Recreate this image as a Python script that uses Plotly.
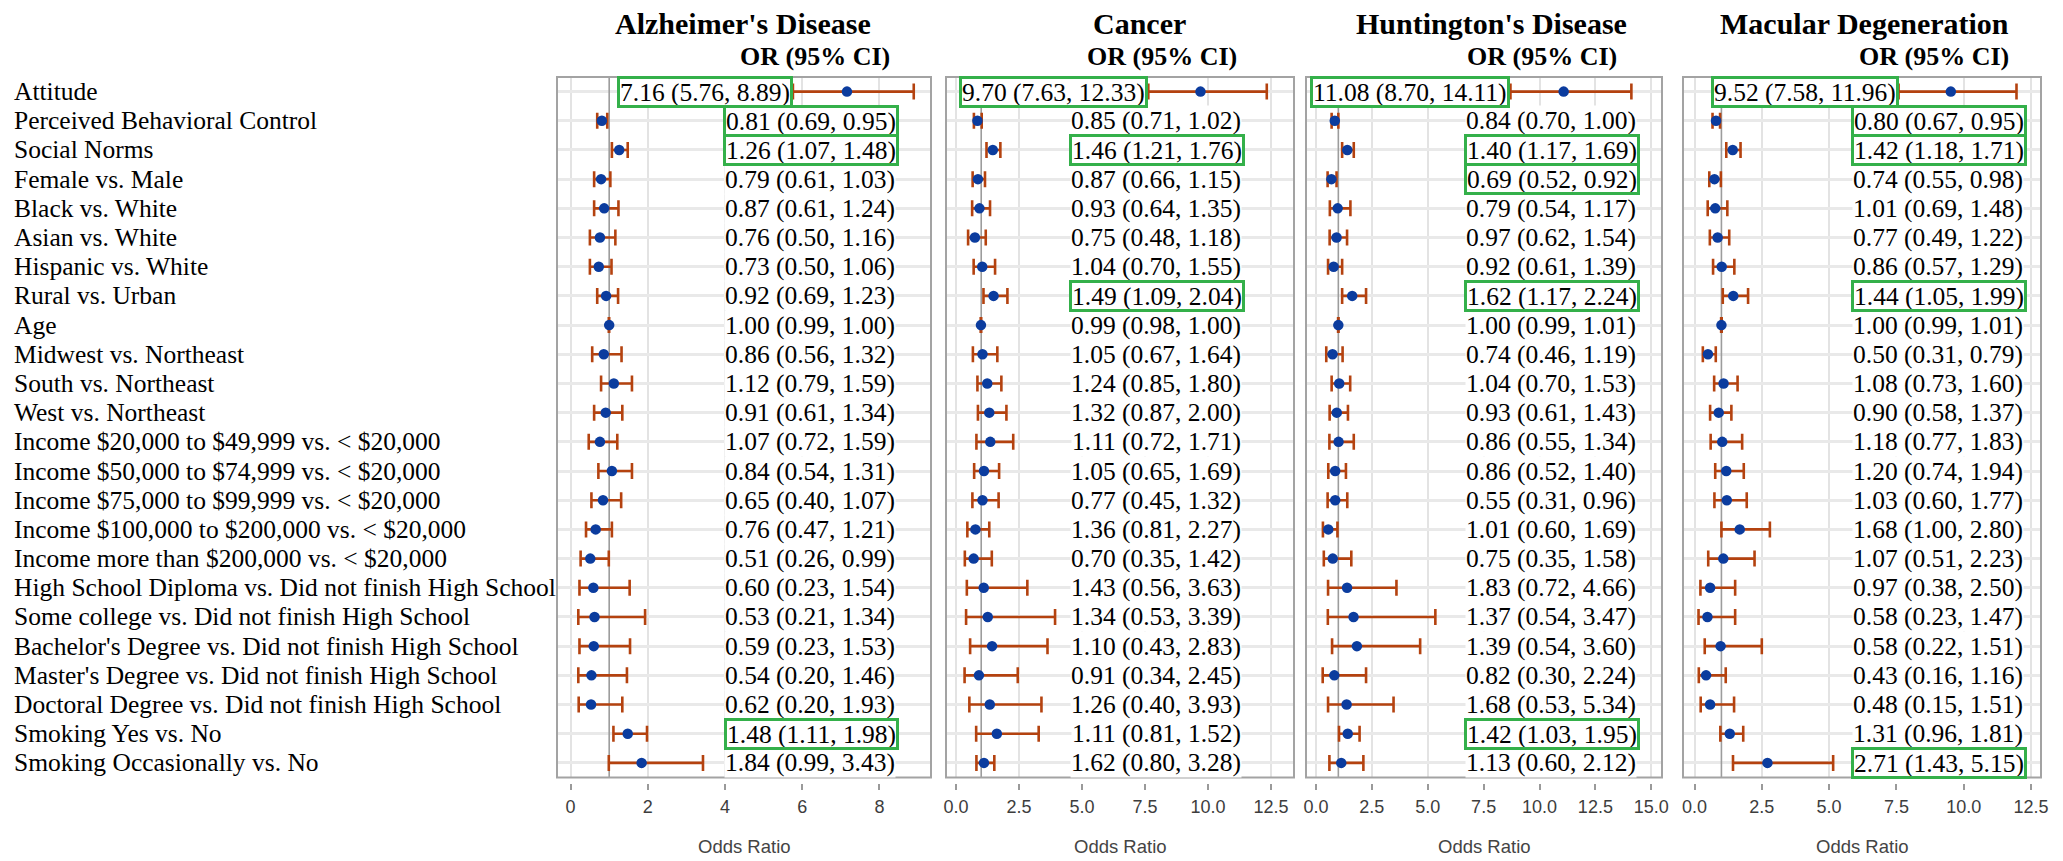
import plotly.graph_objects as go

# ---------------- data ----------------
row_labels = [
    "Attitude", "Perceived Behavioral Control", "Social Norms", "Female vs. Male",
    "Black vs. White", "Asian vs. White", "Hispanic vs. White", "Rural vs. Urban", "Age",
    "Midwest vs. Northeast", "South vs. Northeast", "West vs. Northeast",
    "Income $20,000 to $49,999 vs. < $20,000", "Income $50,000 to $74,999 vs. < $20,000",
    "Income $75,000 to $99,999 vs. < $20,000", "Income $100,000 to $200,000 vs. < $20,000",
    "Income more than $200,000 vs. < $20,000",
    "High School Diploma vs. Did not finish High School", "Some college vs. Did not finish High School",
    "Bachelor's Degree vs. Did not finish High School", "Master's Degree vs. Did not finish High School",
    "Doctoral Degree vs. Did not finish High School", "Smoking Yes vs. No", "Smoking Occasionally vs. No",
]

alz_or = [7.16, 0.81, 1.26, 0.79, 0.87, 0.76, 0.73, 0.92, 1.00, 0.86, 1.12, 0.91, 1.07, 0.84, 0.65, 0.76, 0.51, 0.60, 0.53, 0.59, 0.54, 0.62, 1.48, 1.84]
alz_lo = [5.76, 0.69, 1.07, 0.61, 0.61, 0.50, 0.50, 0.69, 0.99, 0.56, 0.79, 0.61, 0.72, 0.54, 0.40, 0.47, 0.26, 0.23, 0.21, 0.23, 0.20, 0.20, 1.11, 0.99]
alz_hi = [8.89, 0.95, 1.48, 1.03, 1.24, 1.16, 1.06, 1.23, 1.00, 1.32, 1.59, 1.34, 1.59, 1.31, 1.07, 1.21, 0.99, 1.54, 1.34, 1.53, 1.46, 1.93, 1.98, 3.43]
alz_boxed = [0, 1, 2, 22]
alz_mark_rows = [0, 1, 2, 3, 4, 5, 6, 7, 8, 9, 10, 11, 15, 12, 13, 14, 16, 19, 21, 17, 20, 18, 22, 23]

can_or = [9.70, 0.85, 1.46, 0.87, 0.93, 0.75, 1.04, 1.49, 0.99, 1.05, 1.24, 1.32, 1.11, 1.05, 0.77, 1.36, 0.70, 1.43, 1.34, 1.10, 0.91, 1.26, 1.11, 1.62]
can_lo = [7.63, 0.71, 1.21, 0.66, 0.64, 0.48, 0.70, 1.09, 0.98, 0.67, 0.85, 0.87, 0.72, 0.65, 0.45, 0.81, 0.35, 0.56, 0.53, 0.43, 0.34, 0.40, 0.81, 0.80]
can_hi = [12.33, 1.02, 1.76, 1.15, 1.35, 1.18, 1.55, 2.04, 1.00, 1.64, 1.80, 2.00, 1.71, 1.69, 1.32, 2.27, 1.42, 3.63, 3.39, 2.83, 2.45, 3.93, 1.52, 3.28]
can_boxed = [0, 2, 7]
can_mark_rows = [0, 1, 2, 3, 4, 5, 6, 7, 8, 9, 10, 11, 15, 12, 13, 14, 16, 19, 21, 17, 20, 18, 23, 22]

hun_or = [11.08, 0.84, 1.40, 0.69, 0.79, 0.97, 0.92, 1.62, 1.00, 0.74, 1.04, 0.93, 0.86, 0.86, 0.55, 1.01, 0.75, 1.83, 1.37, 1.39, 0.82, 1.68, 1.42, 1.13]
hun_lo = [8.70, 0.70, 1.17, 0.52, 0.54, 0.62, 0.61, 1.17, 0.99, 0.46, 0.70, 0.61, 0.55, 0.52, 0.31, 0.60, 0.35, 0.72, 0.54, 0.54, 0.30, 0.53, 1.03, 0.60]
hun_hi = [14.11, 1.00, 1.69, 0.92, 1.17, 1.54, 1.39, 2.24, 1.01, 1.19, 1.53, 1.43, 1.34, 1.40, 0.96, 1.69, 1.58, 4.66, 3.47, 3.60, 2.24, 5.34, 1.95, 2.12]
hun_boxed = [0, 2, 3, 7, 22]
hun_mark_rows = [0, 1, 2, 3, 5, 6, 4, 7, 8, 9, 10, 11, 15, 12, 13, 14, 16, 19, 21, 17, 20, 18, 22, 23]

mac_or = [9.52, 0.80, 1.42, 0.74, 1.01, 0.77, 0.86, 1.44, 1.00, 0.50, 1.08, 0.90, 1.18, 1.20, 1.03, 1.68, 1.07, 0.97, 0.58, 0.58, 0.43, 0.48, 1.31, 2.71]
mac_lo = [7.58, 0.67, 1.18, 0.55, 0.69, 0.49, 0.57, 1.05, 0.99, 0.31, 0.73, 0.58, 0.77, 0.74, 0.60, 1.00, 0.51, 0.38, 0.23, 0.22, 0.16, 0.15, 0.96, 1.43]
mac_hi = [11.96, 0.95, 1.71, 0.98, 1.48, 1.22, 1.29, 1.99, 1.01, 0.79, 1.60, 1.37, 1.83, 1.94, 1.77, 2.80, 2.23, 2.50, 1.47, 1.51, 1.16, 1.51, 1.81, 5.15]
mac_boxed = [0, 1, 2, 7, 23]
mac_mark_rows = [0, 1, 2, 3, 5, 6, 4, 7, 8, 9, 10, 11, 14, 12, 13, 15, 16, 19, 21, 17, 20, 18, 22, 23]

titles = ["Alzheimer's Disease", "Cancer", "Huntington's Disease", "Macular Degeneration"]
x_ticks = [[0, 2, 4, 6, 8],
           [0, 2.5, 5, 7.5, 10, 12.5],
           [0, 2.5, 5, 7.5, 10, 12.5, 15],
           [0, 2.5, 5, 7.5, 10, 12.5]]
x_tick_text = [["0", "2", "4", "6", "8"],
               ["0.0", "2.5", "5.0", "7.5", "10.0", "12.5"],
               ["0.0", "2.5", "5.0", "7.5", "10.0", "12.5", "15.0"],
               ["0.0", "2.5", "5.0", "7.5", "10.0", "12.5"]]
ref_or = 1.0

# ---------------- layout constants ----------------
W, H = 2063, 861
MT, MB = 77, 78
PLOT_H = H - MT - MB
FRAME_BOTTOM_PX = 777.5

panel_px = [(557, 931), (946, 1294), (1306, 1662), (1683, 2041)]
x_ranges = [[-0.352, 9.337], [-0.397, 13.41], [-0.447, 15.48], [-0.427, 12.87]]
text_x = [8.43, 11.35, 14.35, 12.22]
title_cx = [743, 1139, 1491, 1864]
or_cx = [815, 1162, 1542, 1934]

SERIF = "Liberation Serif, Times New Roman, serif"
SANS = "Liberation Sans, Arial, sans-serif"
GREEN = "#34b04a"
BLUE = "#0b3c9e"
RUST = "#b4420f"
FRAME = "#a3a3a3"


def py2paper(py):
    return (H - MB - py) / PLOT_H


panels = [
    (alz_or, alz_lo, alz_hi, alz_boxed, alz_mark_rows),
    (can_or, can_lo, can_hi, can_boxed, can_mark_rows),
    (hun_or, hun_lo, hun_hi, hun_boxed, hun_mark_rows),
    (mac_or, mac_lo, mac_hi, mac_boxed, mac_mark_rows),
]

fig = go.Figure()
annotations = []
shapes = []
layout = {}
y_dom = [py2paper(FRAME_BOTTOM_PX), 1.0]
rows = list(range(len(row_labels)))

for k, (o, lo, hi, boxed, mark_rows) in enumerate(panels):
    sfx = "" if k == 0 else str(k + 1)
    xa, ya = "x" + sfx, "y" + sfx
    px0, px1 = panel_px[k]

    # reference line at OR = 1
    fig.add_trace(go.Scatter(
        x=[ref_or, ref_or], y=[-0.5, 23.5], mode="lines", xaxis=xa, yaxis=ya,
        showlegend=False, hoverinfo="skip", line=dict(color="#9c9c9c", width=1.6),
    ))

    # marks (estimate drawn on each row)
    mo = [o[j] for j in mark_rows]
    ml = [lo[j] for j in mark_rows]
    mh = [hi[j] for j in mark_rows]
    fig.add_trace(go.Scatter(
        x=mo, y=rows, mode="markers", xaxis=xa, yaxis=ya, showlegend=False,
        marker=dict(color=BLUE, size=10.5),
        error_x=dict(type="data", symmetric=False,
                     array=[h - m for h, m in zip(mh, mo)],
                     arrayminus=[m - l for m, l in zip(mo, ml)],
                     color=RUST, thickness=2.6, width=8),
    ))

    layout["xaxis" + sfx] = dict(
        domain=[px0 / W, px1 / W], range=x_ranges[k], anchor="free", position=0,
        tickvals=x_ticks[k], ticktext=x_tick_text[k], ticks="outside", ticklen=6,
        tickwidth=1.5, tickcolor="#9a9a9a", showline=False, zeroline=False,
        showgrid=True, gridcolor="#e3e3e3", gridwidth=1.5,
        tickfont=dict(family=SANS, size=18, color="#3d3d3d"),
        ticklabelstandoff=1,
    )
    layout["yaxis" + sfx] = dict(
        domain=y_dom, range=[23.5, -0.5], anchor=xa, tickvals=rows,
        showticklabels=False, ticks="", showline=False, zeroline=False,
        showgrid=True, gridcolor="#e9e9e9", gridwidth=2.5,
    )

    # panel frame
    shapes.append(dict(type="rect", xref=xa + " domain", yref=ya + " domain",
                       x0=0, x1=1, y0=0, y1=1, line=dict(color=FRAME, width=2)))

    # OR (95% CI) text per row
    plain, framed = [], []
    for i in rows:
        txt = f"{o[i]:.2f} ({lo[i]:.2f}, {hi[i]:.2f})"
        mlo = ml[i]
        before_ci = mlo > 0.5 * text_x[k]
        ax = mlo if before_ci else text_x[k]
        if i in boxed:
            framed.append(dict(x=ax, y=i, xref=xa, yref=ya, text=txt, showarrow=False,
                               xanchor="right", yanchor="middle", xshift=0 if before_ci else 3,
                               font=dict(family=SERIF, size=25.5, color="black"),
                               bgcolor="white", bordercolor=GREEN, borderwidth=3,
                               borderpad=0, height=26))
        else:
            plain.append(dict(x=ax, y=i, xref=xa, yref=ya, text=txt, showarrow=False,
                              xanchor="right", yanchor="middle",
                              font=dict(family=SERIF, size=25.5, color="black"),
                              bgcolor="white", borderpad=0, height=29))
    annotations += plain + framed

    # titles
    annotations.append(dict(x=title_cx[k] / W, y=py2paper(23), xref="paper", yref="paper",
                            text="<b>" + titles[k] + "</b>", showarrow=False,
                            xanchor="center", yanchor="middle",
                            font=dict(family=SERIF, size=30, color="black")))
    annotations.append(dict(x=or_cx[k] / W, y=py2paper(57), xref="paper", yref="paper",
                            text="<b>OR (95% CI)</b>", showarrow=False,
                            xanchor="center", yanchor="middle",
                            font=dict(family=SERIF, size=26, color="black")))
    # axis title
    annotations.append(dict(x=(px0 + px1) / 2 / W, y=py2paper(846), xref="paper", yref="paper",
                            text="Odds Ratio", showarrow=False,
                            xanchor="center", yanchor="middle",
                            font=dict(family=SANS, size=18.5, color="#444444")))

# row labels
for i, lab in enumerate(row_labels):
    annotations.append(dict(x=12 / W, y=i, xref="paper", yref="y", text=lab, showarrow=False,
                            xanchor="left", yanchor="middle",
                            font=dict(family=SERIF, size=25.5, color="black")))

fig.update_layout(
    width=W, height=H, autosize=False,
    margin=dict(l=0, r=0, t=MT, b=MB, autoexpand=False),
    paper_bgcolor="white", plot_bgcolor="white",
    showlegend=False, annotations=annotations, shapes=shapes, **layout,
)

fig.write_html("out.html")
